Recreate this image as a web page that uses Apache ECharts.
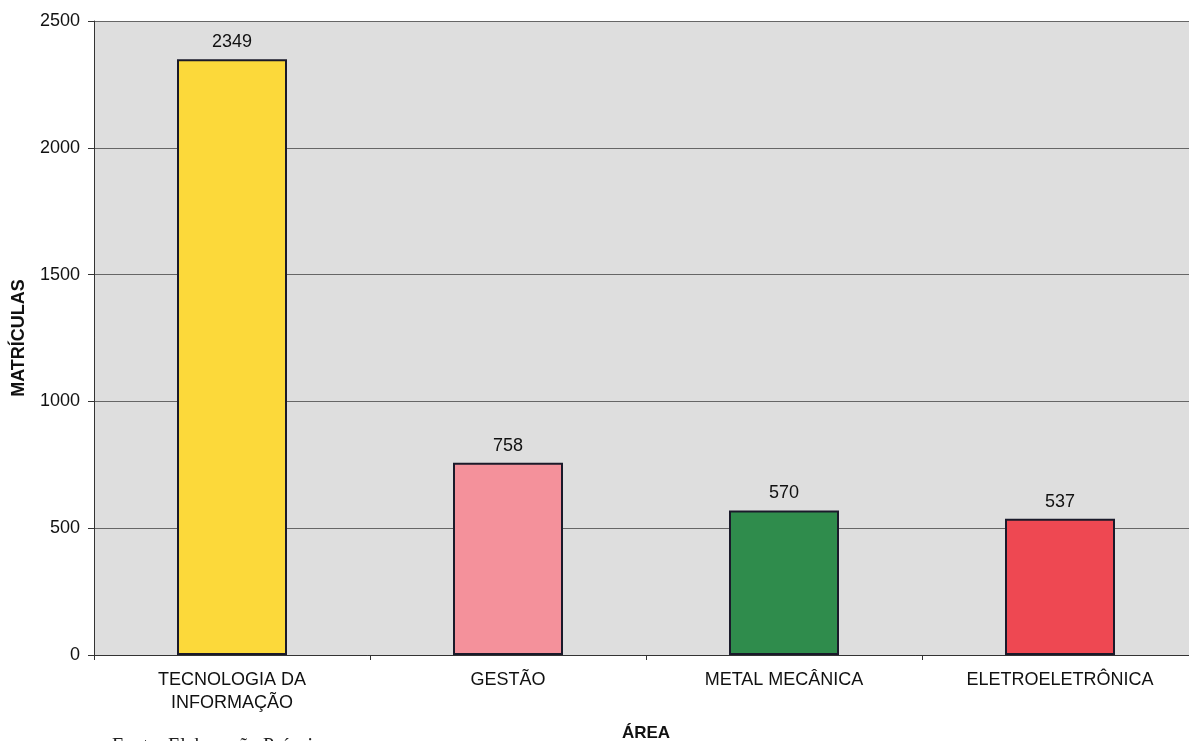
<!DOCTYPE html>
<html><head><meta charset="utf-8">
<script src="https://cdn.jsdelivr.net/npm/echarts@6/dist/echarts.min.js"></script>
<style>html,body{margin:0;padding:0;background:#fff}#c{width:1189px;height:741px}</style>
</head><body><div id="c"></div>
<script>
const categories = ['TECNOLOGIA DA\nINFORMAÇÃO', 'GESTÃO', 'METAL MECÂNICA', 'ELETROELETRÔNICA'];
const values = [2349, 758, 570, 537];
const barColors = ['#FCD93A', '#F4919B', '#2F8C4C', '#EE4852'];
const yTicks = [0, 500, 1000, 1500, 2000, 2500];

const chart = echarts.init(document.getElementById('c'));
chart.setOption({
  animation: false,
  grid: { left: 94, top: 21, width: 1104, height: 634, show: true, backgroundColor: '#DEDEDE', borderWidth: 0,
          containLabel: false, outerBoundsMode: 'none' },
  xAxis: {
    type: 'category', data: categories,
    name: 'ÁREA', nameLocation: 'middle', nameGap: 70,
    nameTextStyle: { fontFamily: 'Liberation Sans', fontWeight: 'bold', fontSize: 17, color: '#111', verticalAlign: 'top' },
    axisLine: { lineStyle: { color: '#333', width: 1 } },
    axisTick: { show: true, alignWithLabel: false, length: 5, lineStyle: { color: '#333' } },
    axisLabel: { fontFamily: 'Liberation Sans', fontSize: 18, color: '#111', margin: 14, lineHeight: 23, interval: 0 }
  },
  yAxis: {
    type: 'value', min: 0, max: 2500, interval: 500,
    name: 'MATRÍCULAS', nameLocation: 'middle', nameGap: 66, nameRotate: 90,
    nameTextStyle: { fontFamily: 'Liberation Sans', fontWeight: 'bold', fontSize: 18, color: '#111' },
    axisLine: { show: true, lineStyle: { color: '#333', width: 1 } },
    axisTick: { show: true, length: 6, lineStyle: { color: '#333' } },
    axisLabel: { fontFamily: 'Liberation Sans', fontSize: 18, color: '#111', margin: 14,
      formatter: v => yTicks.includes(v) ? String(v) : '' },
    splitLine: { show: true, lineStyle: { color: '#666', width: 1 } }
  },
  series: [{
    type: 'bar', barWidth: 110,
    data: values.map((v, i) => ({ value: v, itemStyle: { color: barColors[i] } })),
    itemStyle: { borderColor: '#1a1a2a', borderWidth: 2 },
    label: { show: true, position: 'top', distance: 8, fontFamily: 'Liberation Sans', fontSize: 18, color: '#111' }
  }],
  graphic: [{
    type: 'text', left: 112, top: 737,
    style: { text: 'Fonte: Elaboração Própria', font: '20px "Liberation Serif"', fill: '#222' }
  }]
});
</script></body></html>
